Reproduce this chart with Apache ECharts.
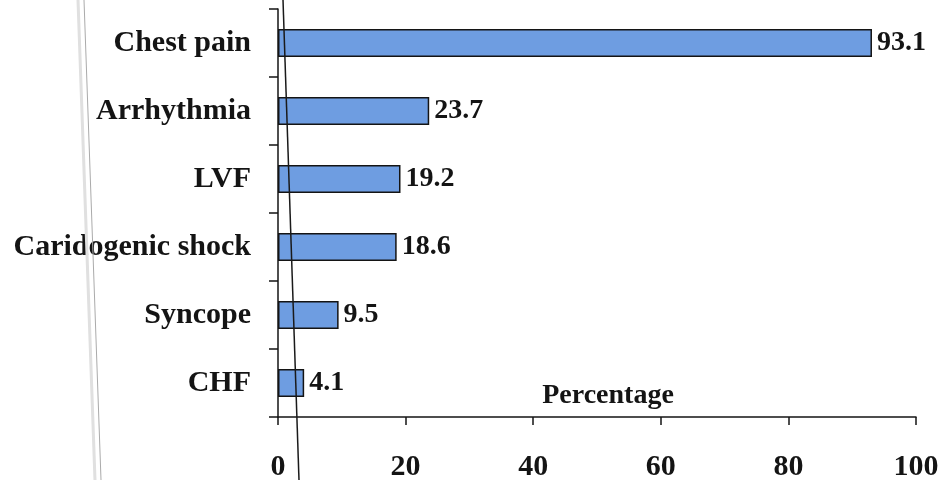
<!DOCTYPE html>
<html>
<head>
<meta charset="utf-8">
<title>Presenting complaints</title>
<script src="https://cdn.jsdelivr.net/npm/echarts@6/dist/echarts.min.js"></script>
<style>
  html, body { margin: 0; padding: 0; background: #fff; }
  #chart { width: 942px; height: 480px; }
</style>
</head>
<body>
<div id="chart"></div>
<script>
// Presenting complaints (% of patients)
const categories = ['Chest pain', 'Arrhythmia', 'LVF', 'Caridogenic shock', 'Syncope', 'CHF'];
const percentages = [93.1, 23.7, 19.2, 18.6, 9.5, 4.1];
const xTicks = { min: 0, max: 100, interval: 20 };

const FONT = '"Liberation Serif", "Times New Roman", serif';
const INK = '#141414';

const chart = echarts.init(document.getElementById('chart'), null, { renderer: 'canvas' });

chart.setOption({
  animation: false,
  backgroundColor: '#ffffff',
  grid: {
    left: 278, right: 26, top: 9, bottom: 63,
    containLabel: false,
    outerBoundsMode: 'none'
  },
  xAxis: {
    type: 'value',
    min: xTicks.min,
    max: xTicks.max,
    interval: xTicks.interval,
    name: 'Percentage',
    nameLocation: 'middle',
    nameGap: -35,
    nameMoveOverlap: false,
    nameTextStyle: {
      fontFamily: FONT, fontWeight: 'bold', fontSize: 28, color: INK,
      padding: [0, 0, 0, 22]
    },
    axisLine: { show: true, lineStyle: { color: INK, width: 1.5 } },
    axisTick: { show: true, length: 8, lineStyle: { color: INK, width: 1.5 } },
    axisLabel: {
      fontFamily: FONT, fontWeight: 'bold', fontSize: 30, color: INK, margin: 35
    },
    splitLine: { show: false }
  },
  yAxis: {
    type: 'category',
    inverse: true,
    data: categories,
    axisLine: { show: true, lineStyle: { color: INK, width: 1.5 } },
    axisTick: { show: true, length: 9, lineStyle: { color: INK, width: 1.5 } },
    axisLabel: {
      fontFamily: FONT, fontWeight: 'bold', fontSize: 30, color: INK, margin: 27
    },
    splitLine: { show: false }
  },
  series: [{
    type: 'bar',
    data: percentages,
    barWidth: 28,
    itemStyle: { color: '#6E9DE1', borderColor: INK, borderWidth: 1.5 },
    label: {
      show: true,
      position: 'right',
      distance: 5,
      fontFamily: FONT, fontWeight: 'bold', fontSize: 28, color: INK,
      formatter: p => p.value.toFixed(1)
    }
  }],
  graphic: [
    // page-edge rules across the sheet
    { type: 'line', silent: true, z: 100,
      shape: { x1: 78, y1: 0, x2: 95, y2: 480 },
      style: { stroke: '#e0e0e0', lineWidth: 3 } },
    { type: 'line', silent: true, z: 100,
      shape: { x1: 84, y1: 0, x2: 101, y2: 480 },
      style: { stroke: '#aaaaaa', lineWidth: 1 } },
    { type: 'line', silent: true, z: 100,
      shape: { x1: 283, y1: 0, x2: 299, y2: 480 },
      style: { stroke: '#1a1a1a', lineWidth: 1.5 } }
  ]
});
</script>
</body>
</html>
